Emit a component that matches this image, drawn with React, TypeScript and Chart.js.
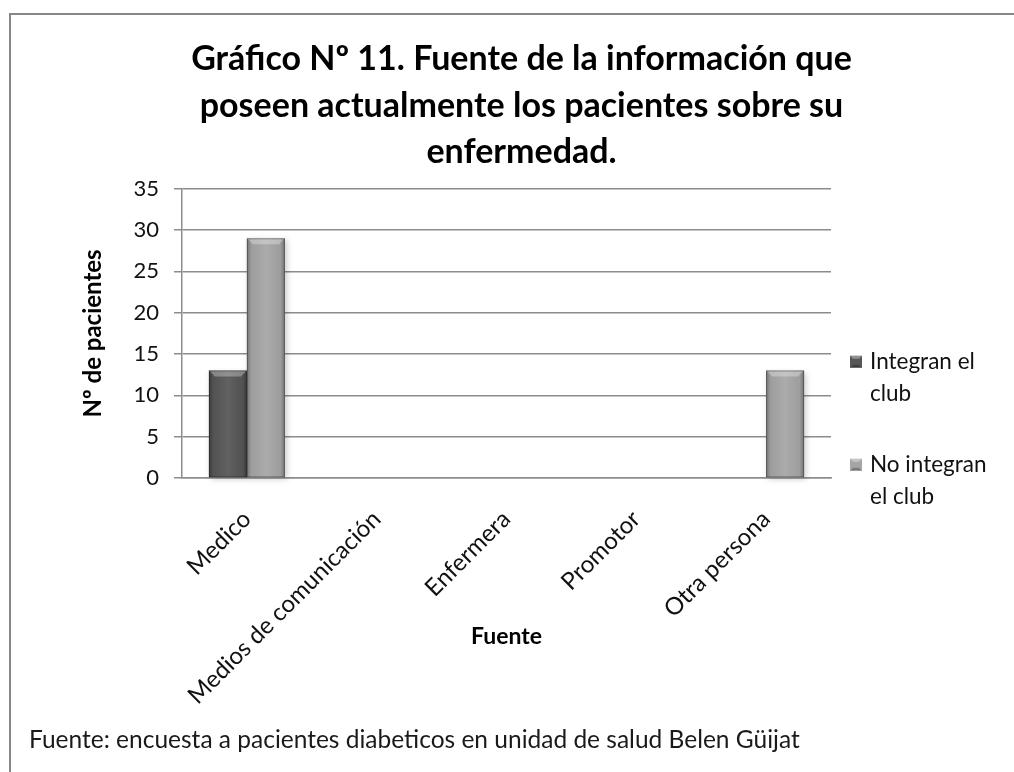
import React, { useEffect, useRef } from "react";
import { Chart, registerables } from "chart.js";
Chart.register(...registerables);

const categories = ["Medico", "Medios de comunicación", "Enfermera", "Promotor", "Otra persona"];
const integranValues = [13, 0, 0, 0, 0];
const noIntegranValues = [29, 0, 0, 0, 13];
const seriesLabels = ["Integran el club", "No integran el club"];
const legendLines = [["Integran el", "club"], ["No integran", "el club"]];
const seriesColors = ["#575757", "#a6a6a6"];
const titleLines = [
  "Gráfico Nº 11. Fuente de la información que",
  "poseen actualmente los pacientes sobre su",
  "enfermedad.",
];
const yAxisTitle = "Nº de pacientes";
const xAxisTitle = "Fuente";
const footerText = "Fuente: encuesta a pacientes diabeticos en unidad de salud Belen Güijat";
const yMin = 0;
const yMax = 35;
const yStep = 5;

const FONT = "Lato";

const framePlugin = {
  id: "frame",
  beforeDraw(chart: any) {
    const { ctx, width, height } = chart;
    ctx.save();
    ctx.fillStyle = "#ffffff";
    ctx.fillRect(0, 0, width, height);
    ctx.strokeStyle = "#878787";
    ctx.lineWidth = 2;
    ctx.strokeRect(10, 14, width + 40, height + 40);
    ctx.restore();
  },
};

const bevelPlugin = {
  id: "bevel",
  beforeDatasetsDraw(chart: any) {
    const { ctx } = chart;
    ctx.save();
    chart.data.datasets.forEach((_: any, di: number) => {
      const meta = chart.getDatasetMeta(di);
      meta.data.forEach((el: any) => {
        const { x, y, base, width } = el.getProps(["x", "y", "base", "width"], true);
        const h = base - y;
        if (h < 1) return;
        ctx.shadowColor = "rgba(0,0,0,0.35)";
        ctx.shadowBlur = 6;
        ctx.shadowOffsetX = 2;
        ctx.shadowOffsetY = 2;
        ctx.fillStyle = "rgba(120,120,120,0.6)";
        ctx.fillRect(x - width / 2, y, width, h);
      });
    });
    ctx.restore();
  },
  afterDatasetsDraw(chart: any) {
    const { ctx } = chart;
    ctx.save();
    chart.data.datasets.forEach((_: any, di: number) => {
      const meta = chart.getDatasetMeta(di);
      meta.data.forEach((el: any) => {
        const { x, y, base, width } = el.getProps(["x", "y", "base", "width"], true);
        const h = base - y;
        if (h < 1) return;
        const left = x - width / 2;
        const right = x + width / 2;
        const g = ctx.createLinearGradient(left, 0, right, 0);
        g.addColorStop(0, "rgba(0,0,0,0.30)");
        g.addColorStop(0.12, "rgba(0,0,0,0.05)");
        g.addColorStop(0.5, "rgba(255,255,255,0.06)");
        g.addColorStop(0.88, "rgba(0,0,0,0.05)");
        g.addColorStop(1, "rgba(0,0,0,0.30)");
        ctx.fillStyle = g;
        ctx.fillRect(left, y, width, h);
        const b = 6;
        ctx.beginPath();
        ctx.moveTo(left, y);
        ctx.lineTo(right, y);
        ctx.lineTo(right - b, y + b);
        ctx.lineTo(left + b, y + b);
        ctx.closePath();
        ctx.fillStyle = "rgba(255,255,255,0.30)";
        ctx.fill();
        ctx.strokeStyle = "rgba(0,0,0,0.28)";
        ctx.lineWidth = 1;
        ctx.strokeRect(left + 0.5, y + 0.5, width - 1, h - 1);
      });
    });
    ctx.restore();
  },
};

const legendPlugin = {
  id: "sideLegend",
  afterDraw(chart: any) {
    const { ctx, chartArea } = chart;
    const x0 = chartArea.right + 19;
    const starts = [chartArea.top + 173, chartArea.top + 276];
    ctx.save();
    ctx.font = `22.5px ${FONT}`;
    ctx.textBaseline = "middle";
    ctx.textAlign = "left";
    legendLines.forEach((lines, i) => {
      const yc = starts[i];
      const s = 12;
      const mx = x0;
      const my = yc - s / 2;
      ctx.fillStyle = seriesColors[i];
      ctx.fillRect(mx, my, s, s);
      ctx.beginPath();
      ctx.moveTo(mx, my);
      ctx.lineTo(mx + s, my);
      ctx.lineTo(mx + s - 3, my + 3);
      ctx.lineTo(mx + 3, my + 3);
      ctx.closePath();
      ctx.fillStyle = "rgba(255,255,255,0.35)";
      ctx.fill();
      ctx.beginPath();
      ctx.moveTo(mx, my + s);
      ctx.lineTo(mx + s, my + s);
      ctx.lineTo(mx + s - 3, my + s - 3);
      ctx.lineTo(mx + 3, my + s - 3);
      ctx.closePath();
      ctx.fillStyle = "rgba(0,0,0,0.25)";
      ctx.fill();
      ctx.fillStyle = "#111111";
      lines.forEach((line, j) => {
        ctx.fillText(line, x0 + 20, yc + j * 32);
      });
    });
    ctx.restore();
  },
};

export default function App() {
  const ref = useRef<HTMLCanvasElement | null>(null);
  useEffect(() => {
    const canvas = ref.current;
    if (!canvas) return;
    Chart.defaults.font.family = FONT;
    const gridColor = "#8c8c8c";
    const chart = new Chart(canvas, {
      type: "bar",
      data: {
        labels: categories,
        datasets: [
          {
            label: seriesLabels[0],
            data: integranValues,
            backgroundColor: seriesColors[0],
            borderWidth: 0,
            categoryPercentage: 0.585,
            barPercentage: 1,
            yAxisID: "y",
          },
          {
            label: seriesLabels[1],
            data: noIntegranValues,
            backgroundColor: seriesColors[1],
            borderWidth: 0,
            categoryPercentage: 0.585,
            barPercentage: 1,
            yAxisID: "y",
          },
        ],
      },
      options: {
        responsive: false,
        maintainAspectRatio: false,
        animation: false,
        layout: { padding: { left: 29, right: 0, top: 0, bottom: 0 } },
        plugins: {
          legend: { display: false },
          tooltip: { enabled: false },
          title: {
            display: true,
            text: titleLines,
            color: "#000000",
            font: { family: FONT, size: 34, weight: "bold", lineHeight: 1.37 },
            padding: { top: 36, bottom: 13 },
          },
          subtitle: {
            display: true,
            position: "bottom",
            align: "start",
            text: footerText,
            color: "#1a1a1a",
            font: { family: FONT, size: 24.5, weight: "normal", lineHeight: 1.2 },
            padding: { top: 0, bottom: 17.3 },
          },
        },
        scales: {
          x: {
            grid: { display: false, drawTicks: false },
            border: { display: true, color: gridColor, width: 1.5 },
            ticks: {
              autoSkip: false,
              minRotation: 45,
              maxRotation: 45,
              padding: 27,
              color: "#111111",
              font: { family: FONT, size: 24 },
            },
            title: {
              display: true,
              text: xAxisTitle,
              color: "#000000",
              font: { family: FONT, size: 23, weight: "bold", lineHeight: 1.2 },
              padding: { top: 0, bottom: 74.8 },
            },
            afterFit(scale: any) {
              scale.height = 247.3;
            },
          },
          y: {
            min: yMin,
            max: yMax,
            position: "left",
            grid: { color: gridColor, lineWidth: 1.5, drawTicks: true, tickLength: 8 },
            border: { display: true, color: gridColor, width: 1.5 },
            ticks: {
              stepSize: yStep,
              padding: 15,
              color: "#111111",
              font: { family: FONT, size: 22 },
            },
            title: {
              display: true,
              text: yAxisTitle,
              color: "#000000",
              font: { family: FONT, size: 24, weight: "bold", lineHeight: 1.2 },
              padding: { top: 49.6, bottom: 0 },
            },
            afterFit(scale: any) {
              scale.width = 153;
            },
          },
          yRight: {
            position: "right",
            display: true,
            min: yMin,
            max: yMax,
            grid: { display: false, drawTicks: false },
            border: { display: false },
            ticks: { display: false },
            afterFit(scale: any) {
              scale.width = 183;
            },
          },
        },
      },
      plugins: [framePlugin, bevelPlugin, legendPlugin],
    } as any);
    return () => chart.destroy();
  }, []);
  return (
    <div style={{ position: "absolute", left: 0, top: 0, width: 1014, height: 772 }}>
      <canvas ref={ref} width={1014} height={772} style={{ width: 1014, height: 772, display: "block" }} />
    </div>
  );
}
